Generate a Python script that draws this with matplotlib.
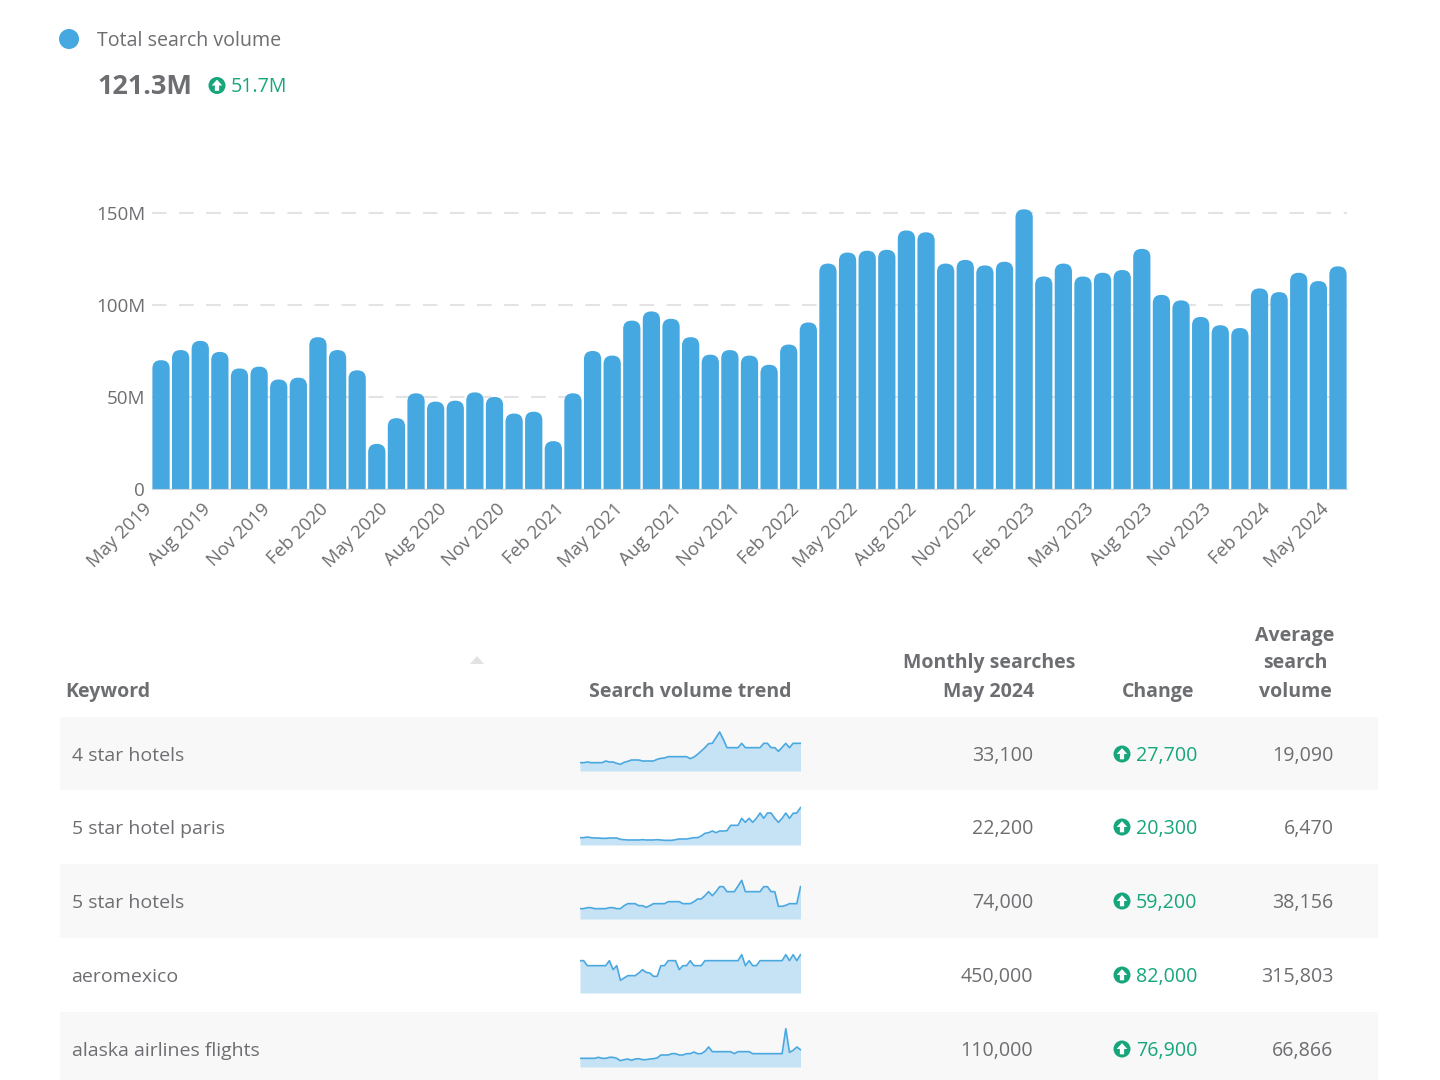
import numpy as np
import matplotlib
matplotlib.use("Agg")
import matplotlib.pyplot as plt
from matplotlib.patches import FancyBboxPatch, Rectangle, Circle, Polygon
from matplotlib.transforms import ScaledTranslation

plt.rcParams['font.family'] = ['Open Sans', 'DejaVu Sans']

# monthly total search volume, millions, May 2019 - May 2024
volume = [70, 75.5, 80.5, 74.5, 65.5, 66.5, 59.5, 60.5, 82.5, 75.5, 64.5, 24.5, 38.5, 52, 47.5, 48, 52.5, 50, 41, 42,
          26, 52, 75, 72.5, 91.5, 96.5, 92.5, 82.5, 73, 75.5, 72.5, 67.5, 78.5, 90.5, 122.5, 128.5, 129.5, 130, 140.5, 139.5,
          122.5, 124.5, 121.5, 123.5, 152, 115.5, 122.5, 115.5, 117.5, 119, 130.5, 105.5, 102.5, 93.5, 89, 87.5, 109, 107, 117.5, 113,
          121]
month_labels = ['May 2019', 'Aug 2019', 'Nov 2019', 'Feb 2020', 'May 2020', 'Aug 2020', 'Nov 2020', 'Feb 2021',
                'May 2021', 'Aug 2021', 'Nov 2021', 'Feb 2022', 'May 2022', 'Aug 2022', 'Nov 2022', 'Feb 2023',
                'May 2023', 'Aug 2023', 'Nov 2023', 'Feb 2024', 'May 2024']
y_ticks = [0, 50, 100, 150]
y_labels = ['0', '50M', '100M', '150M']

keywords = ['4 star hotels', '5 star hotel paris', '5 star hotels', 'aeromexico', 'alaska airlines flights']
monthly = ['33,100', '22,200', '74,000', '450,000', '110,000']
change = ['27,700', '20,300', '59,200', '82,000', '76,900']
average = ['19,090', '6,470', '38,156', '315,803', '66,866']

# trend lines
trend_1 = [25, 25, 27, 25, 25, 25, 25, 30, 27, 27, 23, 20, 26, 29, 33, 33, 33, 30, 30, 30,
           30, 35, 38, 39, 43, 43, 43, 43, 43, 43, 37, 42, 50, 60, 70, 82, 83, 100, 117, 95,
           70, 70, 70, 70, 83, 70, 70, 70, 70, 70, 83, 83, 70, 70, 59, 71, 83, 70, 83, 83, 83]
trend_2 = [22, 22, 24, 22, 21, 21, 20, 20, 21, 21, 21, 17, 16, 15, 15, 15, 15, 16, 15, 15,
           15, 16, 15, 14, 14, 14, 16, 18, 18, 18, 20, 22, 22, 27, 35, 37, 42, 37, 42, 42,
           43, 59, 59, 59, 80, 68, 80, 68, 80, 96, 80, 96, 96, 80, 68, 80, 96, 80, 95, 96, 112]
trend_3 = [31, 31, 34, 34, 31, 31, 31, 31, 34, 34, 31, 31, 40, 46, 46, 46, 40, 40, 35, 40,
           46, 46, 46, 46, 52, 52, 52, 52, 46, 46, 46, 52, 60, 60, 70, 82, 70, 82, 97, 97,
           82, 82, 82, 99, 116, 82, 82, 82, 82, 82, 97, 97, 82, 82, 38, 38, 41, 46, 46, 46, 97]
trend_4 = [97, 97, 82, 82, 82, 82, 82, 82, 97, 70, 82, 38, 45, 52, 52, 52, 60, 70, 62, 60,
           50, 50, 82, 82, 97, 97, 97, 70, 82, 82, 97, 82, 82, 82, 97, 97, 97, 97, 97, 97,
           97, 97, 97, 97, 115, 82, 97, 82, 82, 97, 97, 97, 97, 97, 97, 97, 115, 97, 115, 97, 115]
trend_5 = [26, 26, 26, 26, 26, 29, 26, 26, 29, 29, 26, 19, 22, 24, 20, 24, 25, 22, 22, 24,
           25, 27, 36, 36, 36, 40, 40, 36, 36, 40, 40, 45, 40, 40, 47, 60, 46, 46, 46, 46,
           46, 46, 40, 46, 46, 46, 46, 40, 40, 40, 40, 40, 40, 40, 40, 40, 115, 44, 50, 60, 52]
trends = [trend_1, trend_2, trend_3, trend_4, trend_5]

BLUE = '#45a8e0'
GREY = '#6d6e71'
GREEN = '#17a67c'
W, H = 1440, 1080


def px_axes(x0, y0, x1, y1, **kw):
    # axes from pixel box, y counted from the top
    return fig.add_axes([x0 / W, 1 - y1 / H, (x1 - x0) / W, (y1 - y0) / H], **kw)


def up_icon(x, y, r):
    bg.add_patch(Circle((x, y), r, color=GREEN, lw=0))
    k = r / 8
    bg.add_patch(Polygon([(x, y - 5.5 * k), (x + 5 * k, y), (x + 2 * k, y), (x + 2 * k, y + 5 * k),
                          (x - 2 * k, y + 5 * k), (x - 2 * k, y), (x - 5 * k, y)], color='white', lw=0))


fig = plt.figure(figsize=(W / 100, H / 100), dpi=100)

# page layer in pixels
bg = px_axes(0, 0, W, H, zorder=0)
bg.set_xlim(0, W)
bg.set_ylim(H, 0)
bg.axis('off')

bg.add_patch(Circle((69, 39), 10, color=BLUE, lw=0))
bg.text(97, 41, 'Total search volume', fontsize=14.1, color=GREY, va='center')
bg.text(97, 87, '121.3M', fontsize=19.5, color=GREY, va='center', fontweight='bold')
up_icon(217, 85.5, 8.5)
bg.text(231, 87, '51.7M', fontsize=14.1, color=GREEN, va='center')

row_tops = [717, 790, 864, 938, 1012]
row_bottoms = [790, 864, 938, 1012, 1080]
for i in range(5):
    if i % 2 == 0:
        bg.add_patch(Rectangle((60, row_tops[i]), 1318, row_bottoms[i] - row_tops[i], color='#f8f8f8', lw=0))
    yc = row_tops[i] + 37
    bg.text(71.5, yc + 2, keywords[i], fontsize=14, color=GREY, va='center')
    bg.text(1033, yc + 2, monthly[i], fontsize=14.1, color=GREY, va='center', ha='right')
    up_icon(1122, yc, 8.5)
    bg.text(1136, yc + 2, change[i], fontsize=14.1, color=GREEN, va='center')
    bg.text(1333.5, yc + 2, average[i], fontsize=14.1, color=GREY, va='center', ha='right')

for x, y, s, ha in [(65.5, 692, 'Keyword', 'left'), (690, 692, 'Search volume trend', 'center'),
                    (989, 663, 'Monthly searches', 'center'), (989, 692, 'May 2024', 'center'),
                    (1158, 692, 'Change', 'center'), (1295, 636, 'Average', 'center'),
                    (1295, 663, 'search', 'center'), (1295, 692, 'volume', 'center')]:
    bg.text(x, y, s, fontsize=14, color=GREY, va='center', ha=ha, fontweight='bold')
bg.add_patch(Polygon([(470, 664), (477, 656), (484, 664)], color='#e2e2e2', lw=0))

# main bars
ax = px_axes(152, 200, 1347, 489, zorder=1)
ax.patch.set_alpha(0)
ax.set_xlim(-0.46, 60.46)
ax.set_ylim(0, 289 / 1.84)
aspect = 19.62 / 1.84
for t in y_ticks[1:]:
    ax.axhline(t, color='#e3e3e3', lw=1.5, dashes=(7, 6), zorder=0)
for i, v in enumerate(volume):
    ax.add_patch(FancyBboxPatch((i - 0.44, -10), 0.88, v + 10, boxstyle='round,pad=0,rounding_size=0.42',
                                mutation_aspect=aspect, facecolor=BLUE, edgecolor='none', zorder=2))
for side in ['top', 'right', 'left']:
    ax.spines[side].set_visible(False)
ax.spines['bottom'].set_color('#c9d6de')
ax.set_yticks(y_ticks, y_labels)
ax.set_xticks(range(0, 61, 3), month_labels)
ax.tick_params(axis='y', length=0, pad=5, labelsize=13.5, labelcolor=GREY)
ax.tick_params(axis='x', length=0, pad=8, labelsize=13.2, labelcolor=GREY)
shift = ScaledTranslation(-18 / 100, 0, fig.dpi_scale_trans)
for lab in ax.get_xticklabels():
    lab.set_rotation(45)
    lab.set_ha('right')
    lab.set_rotation_mode('anchor')
    lab.set_transform(lab.get_transform() + shift)

# sparklines
baselines = [771, 845, 919, 993, 1067]
for base, tr in zip(baselines, trends):
    sp = px_axes(580, base - 60, 800.5, base, zorder=2)
    sp.patch.set_alpha(0)
    xs = range(len(tr))
    sp.fill_between(xs, tr, 0, color='#c6e2f5', lw=0)
    sp.plot(xs, tr, color='#4aa8e0', lw=1.2)
    sp.set_xlim(0, 60)
    sp.set_ylim(0, 180)
    sp.axis('off')

plt.savefig('out.png', dpi=100)
